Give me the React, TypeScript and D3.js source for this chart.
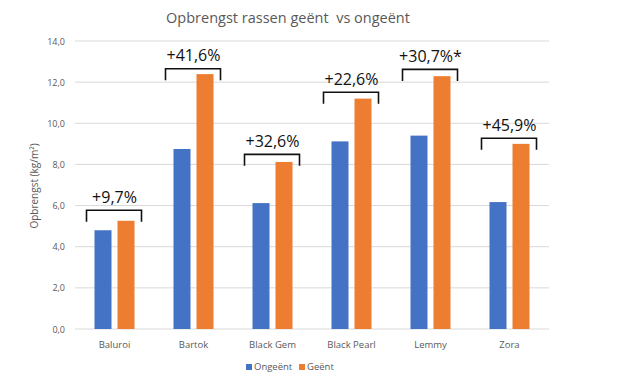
import React from "react";
import * as d3 from "d3";

const categories = ["Baluroi", "Bartok", "Black Gem", "Black Pearl", "Lemmy", "Zora"];
const seriesNames = ["Ongeënt", "Geënt"];
const ongeent = [4.8, 8.75, 6.12, 9.12, 9.4, 6.17];
const geent = [5.26, 12.39, 8.12, 11.2, 12.29, 9.0];
const increaseLabels = ["+9,7%", "+41,6%", "+32,6%", "+22,6%", "+30,7%*", "+45,9%"];
const bracketLevels = [5.77, 12.65, 8.49, 11.51, 12.62, 9.27];
const yTicks = [0, 2, 4, 6, 8, 10, 12, 14];
const colors = ["#4472C4", "#ED7D31"];

const W = 626;
const H = 377;
const FONT = "'Open Sans', 'DejaVu Sans', sans-serif";

export default function App() {
  const plotLeft = 75;
  const plotRight = 549;
  const y = d3.scaleLinear().domain([0, 14]).range([329, 41]);
  const x0 = d3.scaleBand<string>().domain(categories).range([plotLeft, plotRight]).paddingInner(0).paddingOuter(0);
  const bw = x0.bandwidth();
  const groupW = 40;
  const x1 = d3
    .scaleBand<string>()
    .domain(seriesNames)
    .range([(bw - groupW) / 2, (bw + groupW) / 2])
    .paddingInner(2 - groupW / 23)
    .paddingOuter(0);
  const values = [ongeent, geent];
  const fmt = (v: number) => d3.format(".1f")(v).replace(".", ",");

  return (
    <svg width={W} height={H} style={{ position: "absolute", left: 0, top: 0, background: "#fff" }}>
      <rect x={0} y={0} width={W} height={H} fill="#fff" />
      <text
        x={288}
        y={23}
        textAnchor="middle"
        fontFamily={FONT}
        fontSize={14.5}
        fill="#595959"
        style={{ whiteSpace: "pre" }}
      >
        {"Opbrengst rassen geënt  vs ongeënt"}
      </text>
      {yTicks.map((t) => (
        <g key={t}>
          <line x1={plotLeft} x2={plotRight} y1={y(t)} y2={y(t)} stroke="#D9D9D9" strokeWidth={1} />
          <text x={65} y={y(t) + 3.5} textAnchor="end" fontFamily={FONT} fontSize={9} fill="#595959">
            {fmt(t)}
          </text>
        </g>
      ))}
      <text
        transform={`translate(38,186) rotate(-90)`}
        textAnchor="middle"
        fontFamily={FONT}
        fontSize={10}
        fill="#595959"
      >
        Opbrengst (kg/m²)
      </text>
      {categories.map((c, i) => (
        <g key={c} transform={`translate(${x0(c)},0)`}>
          {seriesNames.map((s, j) => (
            <rect
              key={s}
              x={x1(s)}
              y={y(values[j][i])}
              width={x1.bandwidth()}
              height={y(0) - y(values[j][i])}
              fill={colors[j]}
            />
          ))}
          <text x={bw / 2} y={348} textAnchor="middle" fontFamily={FONT} fontSize={9.5} fill="#595959">
            {c}
          </text>
          <path
            d={`M${bw / 2 - 28},${y(bracketLevels[i]) + 11.5}V${y(bracketLevels[i])}H${bw / 2 + 27}V${y(bracketLevels[i]) + 11.5}`}
            fill="none"
            stroke="#111"
            strokeWidth={1.6}
          />
          <text
            x={bw / 2}
            y={y(bracketLevels[i]) - 7.5}
            textAnchor="middle"
            fontFamily={FONT}
            fontSize={16}
            fill="#111"
          >
            {increaseLabels[i]}
          </text>
        </g>
      ))}
      <g fontFamily={FONT} fontSize={9.5} fill="#595959">
        <rect x={246} y={364} width={6} height={6} fill={colors[0]} />
        <text x={254} y={370}>{seriesNames[0]}</text>
        <rect x={299} y={364} width={6} height={6} fill={colors[1]} />
        <text x={307} y={370}>{seriesNames[1]}</text>
      </g>
    </svg>
  );
}
